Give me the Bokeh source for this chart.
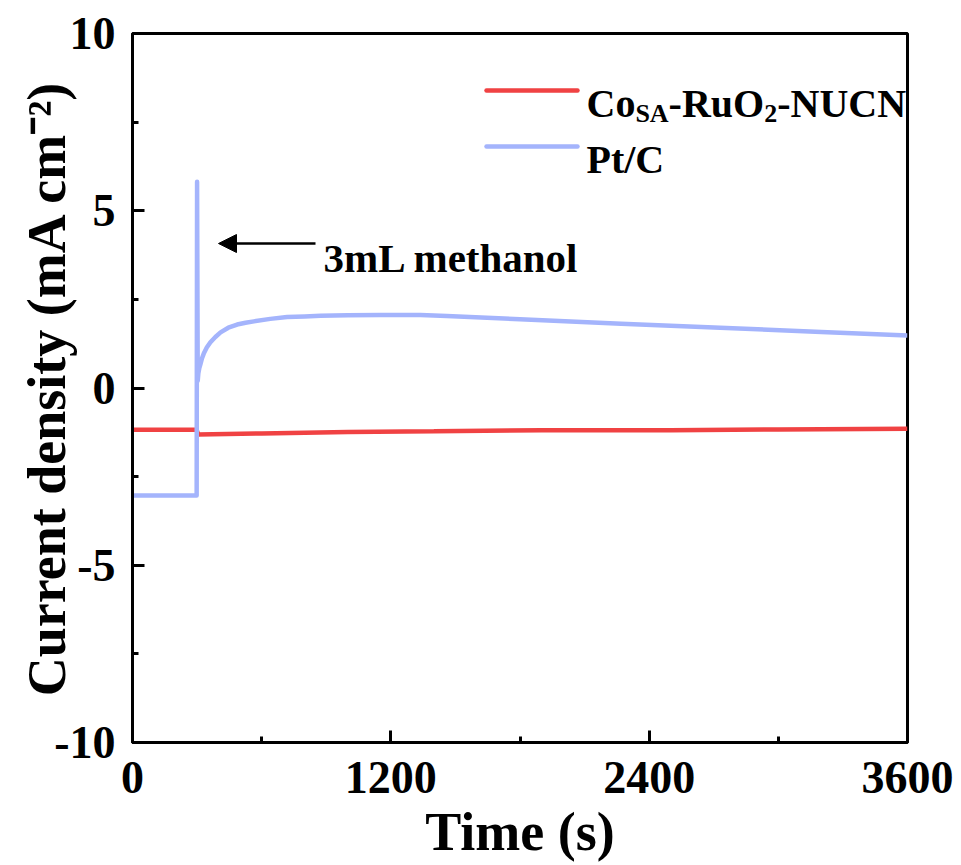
import math
from bokeh.plotting import figure
from bokeh.models import (Label, Arrow, NormalHead, FixedTicker, Range1d)
from bokeh.embed import file_html
from bokeh.resources import INLINE

# ---------------- data ----------------
red_t = [0, 298, 305, 600, 1000, 1400, 1900, 2500, 3000, 3600]
red_j = [-1.18, -1.18, -1.31, -1.28, -1.24, -1.22, -1.19, -1.19, -1.17, -1.15]

blue_t = [0, 298, 300, 303, 306, 310, 316, 323, 331, 345, 362, 385, 409, 445,
          486, 525, 564, 640, 718, 800, 873, 1000, 1150, 1338, 1460, 1800,
          2270, 2730, 3200, 3600]
blue_j = [-3.03, -3.03, 5.82, 0.2, 0.42, 0.55, 0.68, 0.84, 0.97, 1.14, 1.29,
          1.44, 1.57, 1.70, 1.79, 1.84, 1.88, 1.95, 2.0, 2.02, 2.04, 2.05,
          2.06, 2.06, 2.03, 1.94, 1.81, 1.70, 1.58, 1.48]

x_ticks = [0, 1200, 2400, 3600]
x_minor = [600, 1800, 3000]
y_ticks = [-10, -5, 0, 5, 10]
y_minor = [-7.5, -2.5, 2.5, 7.5]
y_tick_labels = {-10: "-10", -5: "-5", 0: "0", 5: "5", 10: "10"}

x_title = "Time (s)"
y_title = "Current density (mA cm\u207b\u00b2)"

RED = "#F04243"
BLUE = "#A4B4FC"
FONT = "Liberation Serif"

# frame in pixels (layout)
FX0, FX1, FY0, FY1 = 132, 907, 33, 742
X0, X1, Y0, Y1 = 0, 3600, -10, 10


def dx(px):
    return X0 + (px - FX0) / (FX1 - FX0) * (X1 - X0)


def dy(py):
    return Y1 - (py - FY0) / (FY1 - FY0) * (Y1 - Y0)


p = figure(width=961, height=865, output_backend="svg", toolbar_location=None,
           x_range=Range1d(X0, X1), y_range=Range1d(Y0, Y1),
           min_border_left=FX0, min_border_right=961 - FX1,
           min_border_top=FY0, min_border_bottom=865 - FY1)
p.xgrid.visible = False
p.ygrid.visible = False
p.outline_line_color = "black"
p.outline_line_width = 3
p.outline_line_alpha = 1
p.background_fill_color = "white"
p.border_fill_color = "white"

for ax in (p.xaxis[0], p.yaxis[0]):
    ax.axis_line_width = 3
    ax.major_tick_line_width = 3
    ax.minor_tick_line_width = 3
    ax.major_tick_in = 12
    ax.major_tick_out = 0
    ax.minor_tick_in = 6
    ax.minor_tick_out = 0
    ax.major_label_text_font = FONT
    ax.major_label_text_font_style = "bold"
    ax.major_label_text_font_size = "46px"
    ax.major_label_text_color = "black"
    ax.axis_label_text_font = FONT
    ax.axis_label_text_font_style = "bold"
    ax.axis_label_text_font_size = "54px"
    ax.axis_label_text_color = "black"

p.xaxis[0].ticker = FixedTicker(ticks=x_ticks, minor_ticks=x_minor)
p.yaxis[0].ticker = FixedTicker(ticks=y_ticks, minor_ticks=y_minor)
p.yaxis[0].major_label_overrides = y_tick_labels
p.xaxis[0].major_label_standoff = 19
p.yaxis[0].major_label_standoff = 17
p.xaxis[0].axis_label = x_title
p.yaxis[0].axis_label = y_title
p.xaxis[0].axis_label_standoff = 6
p.yaxis[0].axis_label_standoff = -26

# ---------------- series ----------------
p.line(red_t, red_j, line_color=RED, line_width=4.5)
p.line(blue_t, blue_j, line_color=BLUE, line_width=4.5, line_join="round")

# ---------------- legend (manual, for sub-scripts) ----------------
p.segment(x0=[dx(486)], y0=[dy(90)], x1=[dx(577)], y1=[dy(90)],
          line_color=RED, line_width=4.5, line_cap="round")
p.segment(x0=[dx(486)], y0=[dy(146)], x1=[dx(577)], y1=[dy(146)],
          line_color=BLUE, line_width=4.5, line_cap="round")

EM = {"C": .722, "o": .5, "S": .556, "A": .722, "-": .333, "R": .722,
      "u": .556, "O": .778, "2": .5, "N": .722, "U": .722, "P": .611,
      "t": .333, "/": .278, " ": .25}


def w(s, size):
    return sum(EM.get(c, .5) for c in s) * size


LEG = 40
SUB = 26
pieces = [("Co", LEG, 0), ("SA", SUB, 10), ("-RuO", LEG, 0), ("2", SUB, 10),
          ("-NUCN", LEG, 0)]
xp = 586
for txt, sz, drop in pieces:
    p.add_layout(Label(x=dx(xp), y=dy(103 + drop), text=txt, text_font=FONT,
                       text_font_style="bold", text_font_size=f"{sz}px",
                       text_color="black", text_align="left",
                       text_baseline="alphabetic"))
    xp += w(txt, sz)
p.add_layout(Label(x=dx(586), y=dy(159), text="Pt/C", text_font=FONT,
                   text_font_style="bold", text_font_size=f"{LEG}px",
                   text_color="black", text_align="left",
                   text_baseline="alphabetic"))

# ---------------- annotation ----------------
p.add_layout(Arrow(end=NormalHead(size=18, fill_color="black", line_color="black"),
                   x_start=dx(315), y_start=dy(243), x_end=dx(218), y_end=dy(243),
                   line_width=2.5, line_color="black"))
p.add_layout(Label(x=dx(323), y=dy(257), text="3mL methanol", text_font=FONT,
                   text_font_style="bold", text_font_size="41px",
                   text_color="black", text_align="left",
                   text_baseline="alphabetic"))

open("out.html", "w").write(file_html(p, INLINE))
